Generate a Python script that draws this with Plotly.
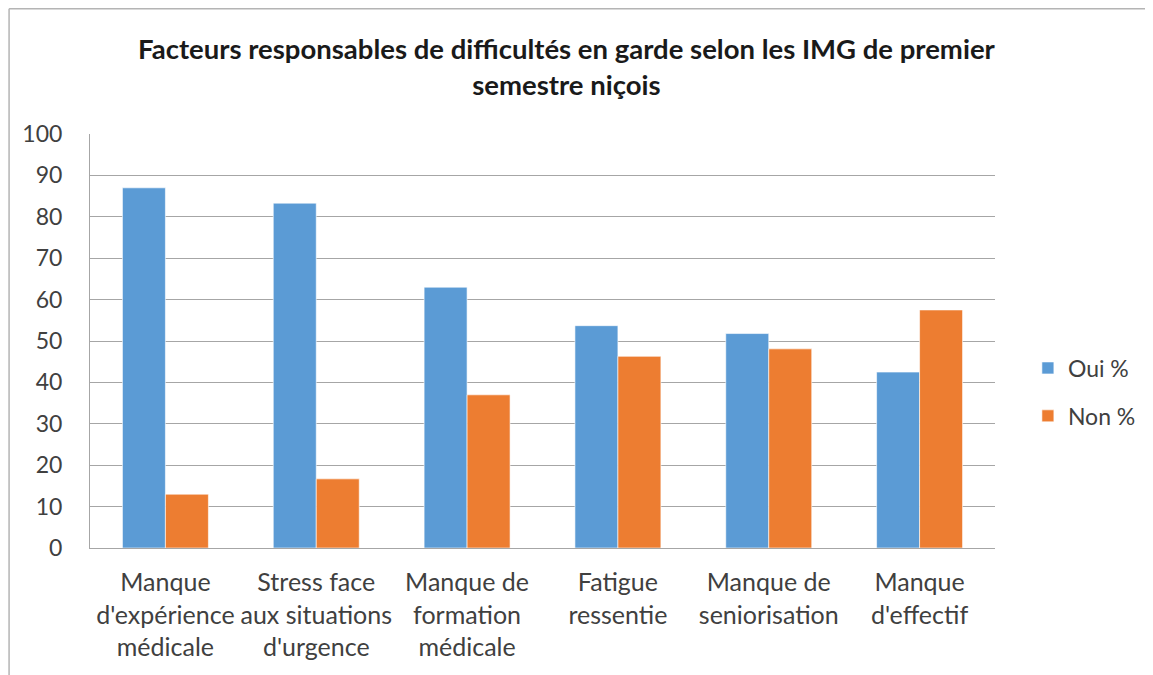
import plotly.graph_objects as go

categories = [
    "Manque<br>d'expérience<br>médicale",
    "Stress face<br>aux situations<br>d'urgence",
    "Manque de<br>formation<br>médicale",
    "Fatigue<br>ressentie",
    "Manque de<br>seniorisation",
    "Manque<br>d'effectif",
]
oui = [87.0, 83.3, 63.0, 53.7, 51.8, 42.5]
non = [13.0, 16.7, 37.0, 46.3, 48.1, 57.5]

FONT = "Lato, Carlito, 'Open Sans', sans-serif"
TXT = "#404040"

# page offset of 8px (body margin); figure occupies page 8..1153 x 8..675
W, H = 1145, 667
L, R, T, B = 82, 155, 126, 127
PW = W - L - R
PH = H - T - B

fig = go.Figure()
fig.add_trace(go.Bar(x=categories, y=oui, name="Oui %",
                     marker=dict(color="#5B9BD5", line=dict(color="rgba(255,255,255,0.6)", width=1)),
                     legendgroup="a"))
fig.add_trace(go.Bar(x=categories, y=non, name="Non %",
                     marker=dict(color="#ED7D31", line=dict(color="rgba(255,255,255,0.6)", width=1)),
                     legendgroup="b"))

fig.update_layout(
    width=W, height=H,
    margin=dict(l=L, r=R, t=T, b=B),
    paper_bgcolor="white", plot_bgcolor="white",
    barmode="group", bargap=0.43, bargroupgap=0,
    font=dict(family=FONT, size=24, color=TXT),
    title=dict(
        text="<b>Facteurs responsables de difficultés en garde selon les IMG de premier<br>semestre niçois</b>",
        x=(568 - 90) / PW, xref="paper", xanchor="center",
        y=1 - 51 / H, yref="container", yanchor="middle",
        font=dict(family=FONT, size=27.5, color="#1a1a1a"),
    ),
    xaxis=dict(showline=True, linecolor="#a6a6a6", linewidth=1, ticks="",
               ticklabelstandoff=12, tickfont=dict(size=25, color=TXT)),
    yaxis=dict(range=[0, 100], dtick=10, showgrid=True, gridcolor="#a6a6a6", gridwidth=1,
               showline=True, linecolor="#a6a6a6", linewidth=1, zeroline=False, ticks="",
               ticklabelstandoff=22, tickfont=dict(size=23, color=TXT)),
    legend=dict(x=(1031 - 90) / PW, xanchor="left", y=(548 - 392) / PH, yanchor="middle",
                font=dict(size=23, color=TXT), tracegroupgap=15, bgcolor="rgba(0,0,0,0)"),
    showlegend=True,
)
# outer chart border: top and left edges only
fig.add_shape(type="line", xref="paper", yref="paper",
              x0=(0.8 - L) / PW, x1=(W - L) / PW, y0=(PH + T - 0.8) / PH, y1=(PH + T - 0.8) / PH,
              line=dict(color="#b4b4b4", width=1.5))
fig.add_shape(type="line", xref="paper", yref="paper",
              x0=(0.8 - L) / PW, x1=(0.8 - L) / PW, y0=-B / PH, y1=(PH + T - 0.8) / PH,
              line=dict(color="#b4b4b4", width=1.5))

fig.write_html("out.html")
